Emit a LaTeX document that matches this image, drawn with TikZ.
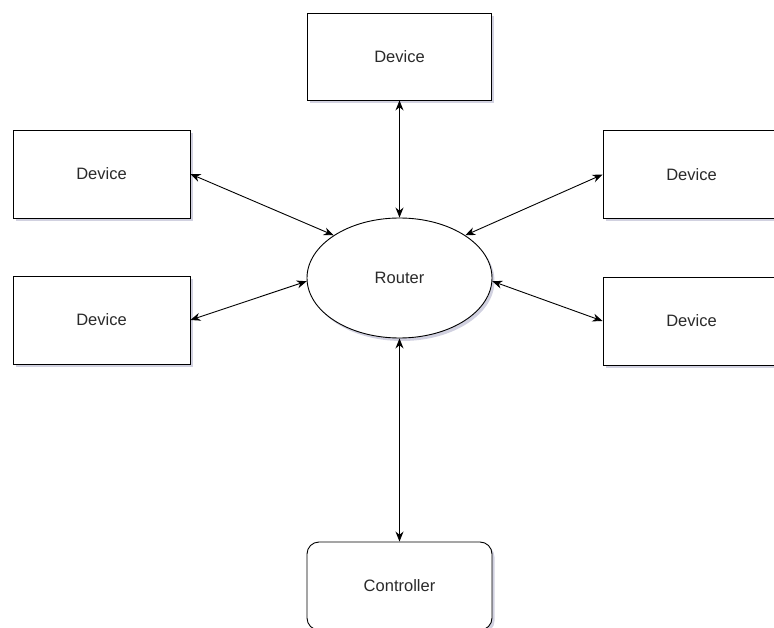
\documentclass[tikz,border=0pt]{standalone}
\usepackage{fontspec}
\setmainfont{Liberation Sans}
\usetikzlibrary{shapes.geometric,shadows,arrows.meta}
\definecolor{txt}{HTML}{2A2A2A}
\begin{document}
\begin{tikzpicture}[x=1pt,y=-1pt,
  shd/.style={drop shadow={shadow xshift=2.5pt,shadow yshift=-3pt,opacity=0.3,fill=blue!20!gray}},
  dev/.style={draw=black,line width=0.9pt,fill=white,shd,minimum width=177pt,minimum height=88pt,inner sep=0pt,font=\fontsize{16.5}{19}\selectfont,text=txt},
  ctl/.style={dev,rounded corners=12pt,minimum width=185pt},
  rtr/.style={draw=black,line width=0.9pt,fill=white,shd,ellipse,minimum width=185pt,minimum height=120pt,inner sep=0pt,font=\fontsize{16.5}{19}\selectfont,text=txt},
  link/.style={line width=0.9pt,{Stealth[length=10pt,width=8pt]}-{Stealth[length=10pt,width=8pt]}}]
\useasboundingbox (0,0) rectangle (774,628);
\clip (0,0) rectangle (774,628);
\node[dev,minimum width=184pt,minimum height=87pt] (top) at (399.5,56.5) {Device};
\node[dev] (lt) at (101.5,174) {Device};
\node[dev] (lb) at (101.5,320) {Device};
\node[dev] (rt) at (691.5,174.5) {Device};
\node[dev] (rb) at (691.5,321) {Device};
\node[rtr] (r) at (399.5,278) {Router};
\node[ctl] (c) at (399.5,586) {Controller};
\draw[link] (top.south) -- (r.north);
\draw[link] (lt.east) -- (r.147);
\draw[link] (lb.east) -- (r.182);
\draw[link] (rt.west) -- (r.33);
\draw[link] (rb.west) -- (r.358);
\draw[link] (r.south) -- (c.north);
\end{tikzpicture}
\end{document}
